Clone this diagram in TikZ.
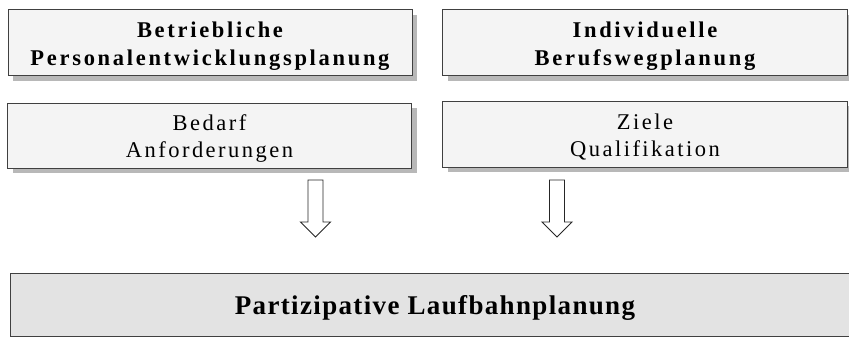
\documentclass[tikz,border=0pt]{standalone}
\usepackage{fontspec}
\setmainfont{Liberation Serif}
\newfontfamily\boxfont{Liberation Serif}[LetterSpace=11]
\usepackage{tikz}
\usetikzlibrary{shadows}

\definecolor{boxgray}{HTML}{F4F4F4}
\definecolor{basegray}{HTML}{E3E3E3}
\definecolor{framegray}{HTML}{404040}

% unsichtbare Stuetze, schiebt die Schrift etwas nach unten
\newcommand{\pushdown}[1]{\rule{0pt}{#1}}

\tikzset{
  planbox/.style={draw=framegray, line width=1pt, fill=boxgray, align=center,
    minimum width=404pt, minimum height=66pt, inner sep=0pt,
    font=\boxfont\fontsize{22.5}{27}\selectfont,
    drop shadow={shadow xshift=5pt, shadow yshift=-5pt, fill=black!28, opacity=1}},
  headbox/.style={planbox, font=\boxfont\bfseries\fontsize{22.5}{28}\selectfont\addfontfeature{LetterSpace=12}},
  blockarrow/.style={draw=black!85, line width=0.9pt, fill=white}
}

\begin{document}
\begin{tikzpicture}[x=1pt,y=-1pt]
  \useasboundingbox (0,0) rectangle (849,337);
  \node[headbox] (pep) at (210,43) {\pushdown{21pt}Betriebliche\\Personalentwicklungsplanung};
  \node[headbox, minimum width=405pt] (ibw) at (645,43) {\pushdown{21pt}Individuelle\\Berufswegplanung};
  \node[planbox, minimum height=65pt] (bed) at (209.5,135.5) {\pushdown{21pt}Bedarf\\Anforderungen};
  \node[planbox, minimum width=405pt] (zq) at (645,134) {\pushdown{21pt}Ziele\\Qualifikation};
  \node[draw=framegray, line width=1pt, fill=basegray, minimum width=850pt, minimum height=63pt,
        inner sep=0pt, font=\fontsize{27}{30}\selectfont\bfseries\addfontfeature{LetterSpace=5}]
        (plp) at (435,304.5) {\pushdown{26.5pt}Partizipative Laufbahnplanung};
  % Pfeile
  \coordinate (a1) at (315.5,180);
  \coordinate (a2) at (557,180);
  \foreach \a in {a1,a2}
    \draw[blockarrow] (\a) ++(-7.5,0) -- ++(0,42) -- ++(-7.5,0) -- ++(15,15) -- ++(15,-15)
      -- ++(-7.5,0) -- ++(0,-42) -- cycle;
\end{tikzpicture}
\end{document}
